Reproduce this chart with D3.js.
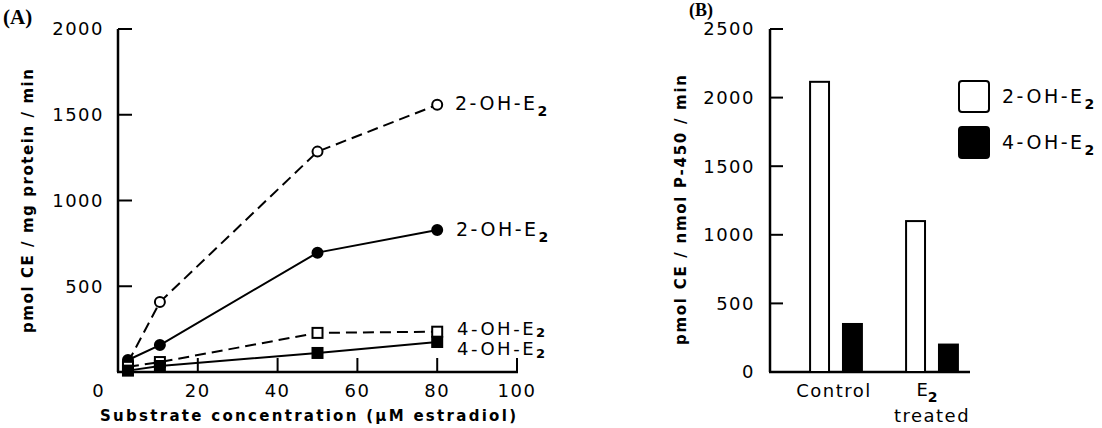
<!DOCTYPE html>
<html>
<head>
<meta charset="utf-8">
<script src="https://cdn.jsdelivr.net/npm/d3@7"></script>
<style>
  body { margin: 0; background: #fff; }
  svg text { font-family: "DejaVu Sans", sans-serif; fill: #000; }
</style>
</head>
<body>
<svg id="chart" width="1102" height="428"></svg>
<script>
// panel A: concentration curves
var concentracoes = [2.5, 10.5, 50, 80];
var oh2Aberto = [55, 408, 1285, 1558];    // 2-OH-E2, open circles, dashed
var oh2Cheio = [70, 157, 696, 828];       // 2-OH-E2, filled circles, solid
var oh4Aberto = [30, 58, 228, 235];       // 4-OH-E2, open squares, dashed
var oh4Cheio = [8, 35, 111, 175];         // 4-OH-E2, filled squares, solid
var ticksXA = [20, 40, 60, 80, 100];
var ticksYA = [500, 1000, 1500, 2000];

// panel B: bars
var grupos = ["Control", "E2 treated"];
var series = ["2-OH-E2", "4-OH-E2"];
var barras2OH = [2115, 1100];
var barras4OH = [350, 200];
var ticksYB = [0, 500, 1000, 1500, 2000, 2500];

var svg = d3.select("#chart");
var tamTick = 18;

// ---------- Painel A ----------
var x = d3.scaleLinear().domain([0, 100]).range([118, 517]);
var y = d3.scaleLinear().domain([0, 2000]).range([372, 29]);

var gA = svg.append("g");

// eixos
gA.append("line").attr("x1", 118).attr("x2", 118).attr("y1", y(2000)).attr("y2", y(0))
  .attr("stroke", "#000").attr("stroke-width", 2.5);
gA.append("line").attr("x1", 117).attr("x2", x(100) + 1).attr("y1", y(0)).attr("y2", y(0))
  .attr("stroke", "#000").attr("stroke-width", 2.5);

gA.selectAll(".tyA").data(ticksYA).enter().append("line")
  .attr("x1", 118).attr("x2", 132)
  .attr("y1", function(d) { return y(d); }).attr("y2", function(d) { return y(d); })
  .attr("stroke", "#000").attr("stroke-width", 2);
gA.selectAll(".lyA").data(ticksYA).enter().append("text")
  .attr("x", 104).attr("y", function(d) { return y(d); })
  .attr("dy", "0.36em").attr("text-anchor", "end")
  .style("font-size", tamTick + "px").style("letter-spacing", "1.5px")
  .text(function(d) { return d; });

gA.selectAll(".txA").data(ticksXA).enter().append("line")
  .attr("x1", function(d) { return x(d); }).attr("x2", function(d) { return x(d); })
  .attr("y1", y(0)).attr("y2", y(0) - 14)
  .attr("stroke", "#000").attr("stroke-width", 2);
gA.selectAll(".lxA").data(ticksXA).enter().append("text")
  .attr("x", function(d) { return x(d); }).attr("y", 397)
  .attr("text-anchor", "middle")
  .style("font-size", tamTick + "px").style("letter-spacing", "1.5px")
  .text(function(d) { return d; });
gA.append("text").attr("x", 98).attr("y", 397).attr("text-anchor", "middle")
  .style("font-size", tamTick + "px").text("0");

gA.append("text").attr("x", 308).attr("y", 421).attr("text-anchor", "middle")
  .attr("textLength", 416).attr("lengthAdjust", "spacing")
  .style("font-size", "15px").style("font-weight", "bold")
  .text("Substrate concentration (\u03BCM estradiol)");

gA.append("text")
  .attr("transform", "translate(33,201) rotate(-90)")
  .attr("text-anchor", "middle")
  .attr("textLength", 264).attr("lengthAdjust", "spacing")
  .style("font-size", "15px").style("font-weight", "bold")
  .text("pmol CE / mg protein / min");

gA.append("text").attr("x", 3).attr("y", 24)
  .style("font-family", "'Liberation Serif', serif").style("font-size", "21px").style("font-weight", "bold")
  .text("(A)");

var linha = d3.line()
  .x(function(d) { return x(d[0]); })
  .y(function(d) { return y(d[1]); });

var curvas = [
  {valores: oh2Aberto, tracejado: true, marca: "circulo", cheio: false},
  {valores: oh2Cheio, tracejado: false, marca: "circulo", cheio: true},
  {valores: oh4Aberto, tracejado: true, marca: "quadrado", cheio: false},
  {valores: oh4Cheio, tracejado: false, marca: "quadrado", cheio: true}
];

curvas.forEach(function(c) {
  var pts = concentracoes.map(function(v, i) { return [v, c.valores[i]]; });
  gA.append("path").datum(pts)
    .attr("d", linha)
    .attr("fill", "none").attr("stroke", "#000").attr("stroke-width", 2)
    .attr("stroke-dasharray", c.tracejado ? "11,6" : null);
  if (c.marca == "circulo") {
    gA.selectAll(null).data(pts).enter().append("circle")
      .attr("cx", function(d) { return x(d[0]); })
      .attr("cy", function(d) { return y(d[1]); })
      .attr("r", 5)
      .attr("fill", c.cheio ? "#000" : "#fff")
      .attr("stroke", "#000").attr("stroke-width", 2);
  } else {
    gA.selectAll(null).data(pts).enter().append("rect")
      .attr("x", function(d) { return x(d[0]) - 5; })
      .attr("y", function(d) { return y(d[1]) - 5; })
      .attr("width", 10).attr("height", 10)
      .attr("fill", c.cheio ? "#000" : "#fff")
      .attr("stroke", "#000").attr("stroke-width", 2);
  }
});

// rótulos das curvas
function rotuloE2(g, texto, px, py, tam, desce) {
  var t = g.append("text").attr("x", px).attr("y", py)
    .style("font-size", tam + "px").style("letter-spacing", "2.5px");
  t.append("tspan").text(texto.slice(0, -1));
  t.append("tspan").attr("dy", desce).style("font-size", (tam - 5) + "px").style("font-weight", "bold")
    .text(texto.slice(-1));
  return t;
}
rotuloE2(gA, "2-OH-E2", 455, 110, 19, 6);
rotuloE2(gA, "2-OH-E2", 456, 236, 19, 6);
rotuloE2(gA, "4-OH-E2", 457, 335, 18, 2);
rotuloE2(gA, "4-OH-E2", 457, 355, 18, 3);

// ---------- Painel B ----------
var yB = d3.scaleLinear().domain([0, 2500]).range([372, 29]);
var x0 = d3.scaleBand().domain(grupos).range([788, 980]).paddingInner(0.46).paddingOuter(0.23);
var x1 = d3.scaleBand().domain(series).range([0, x0.bandwidth()]).paddingInner(0.424);

var gB = svg.append("g");

gB.append("line").attr("x1", 770).attr("x2", 770).attr("y1", yB(2500)).attr("y2", yB(0))
  .attr("stroke", "#000").attr("stroke-width", 2.5);
gB.append("line").attr("x1", 769).attr("x2", 970).attr("y1", yB(0)).attr("y2", yB(0))
  .attr("stroke", "#000").attr("stroke-width", 2.5);

gB.selectAll(".tyB").data(ticksYB.slice(1)).enter().append("line")
  .attr("x1", 770).attr("x2", 783)
  .attr("y1", function(d) { return yB(d); }).attr("y2", function(d) { return yB(d); })
  .attr("stroke", "#000").attr("stroke-width", 2);
gB.selectAll(".lyB").data(ticksYB).enter().append("text")
  .attr("x", 755).attr("y", function(d) { return yB(d); })
  .attr("dy", "0.36em").attr("text-anchor", "end")
  .style("font-size", tamTick + "px").style("letter-spacing", "1.5px")
  .text(function(d) { return d; });

var dadosB = grupos.map(function(g, i) {
  return {grupo: g, valores: [{key: series[0], value: barras2OH[i]}, {key: series[1], value: barras4OH[i]}]};
});

gB.append("g").selectAll("g").data(dadosB).enter().append("g")
  .attr("transform", function(d) { return "translate(" + x0(d.grupo) + ",0)"; })
  .selectAll("rect").data(function(d) { return d.valores; }).enter().append("rect")
  .attr("x", function(d) { return x1(d.key); })
  .attr("y", function(d) { return yB(d.value); })
  .attr("width", x1.bandwidth())
  .attr("height", function(d) { return yB(0) - yB(d.value); })
  .attr("fill", function(d) { return d.key == series[0] ? "#fff" : "#000"; })
  .attr("stroke", "#000").attr("stroke-width", 2);

gB.append("text").attr("x", x0("Control") + x0.bandwidth() / 2 - 2).attr("y", 397)
  .attr("text-anchor", "middle").style("font-size", tamTick + "px").style("letter-spacing", "1.5px")
  .text("Control");
var tE = gB.append("text").attr("x", x0("E2 treated") + x0.bandwidth() / 2 - 5).attr("y", 396)
  .attr("text-anchor", "middle").style("font-size", tamTick + "px");
tE.append("tspan").text("E");
tE.append("tspan").attr("dy", 6).style("font-size", "14px").style("font-weight", "bold").text("2");
gB.append("text").attr("x", x0("E2 treated") + x0.bandwidth() / 2).attr("y", 422)
  .attr("text-anchor", "middle").style("font-size", tamTick + "px").style("letter-spacing", "1.5px")
  .text("treated");

gB.append("text")
  .attr("transform", "translate(686,210) rotate(-90)")
  .attr("text-anchor", "middle")
  .attr("textLength", 270).attr("lengthAdjust", "spacing")
  .style("font-size", "15px").style("font-weight", "bold")
  .text("pmol CE / nmol P-450 / min");

gB.append("text").attr("x", 689).attr("y", 16)
  .style("font-family", "'Liberation Serif', serif").style("font-size", "18px").style("font-weight", "bold")
  .text("(B)");

// legenda
var legenda = gB.selectAll(".leg").data(series).enter().append("g")
  .attr("transform", function(d, i) { return "translate(959," + (81 + i * 46) + ")"; });
legenda.append("rect")
  .attr("width", 30).attr("height", 31).attr("rx", 3)
  .attr("fill", function(d, i) { return i == 0 ? "#fff" : "#000"; })
  .attr("stroke", "#000").attr("stroke-width", 2);
legenda.each(function(d) {
  rotuloE2(d3.select(this), d, 43, 22, 19, 6);
});
</script>
</body>
</html>
